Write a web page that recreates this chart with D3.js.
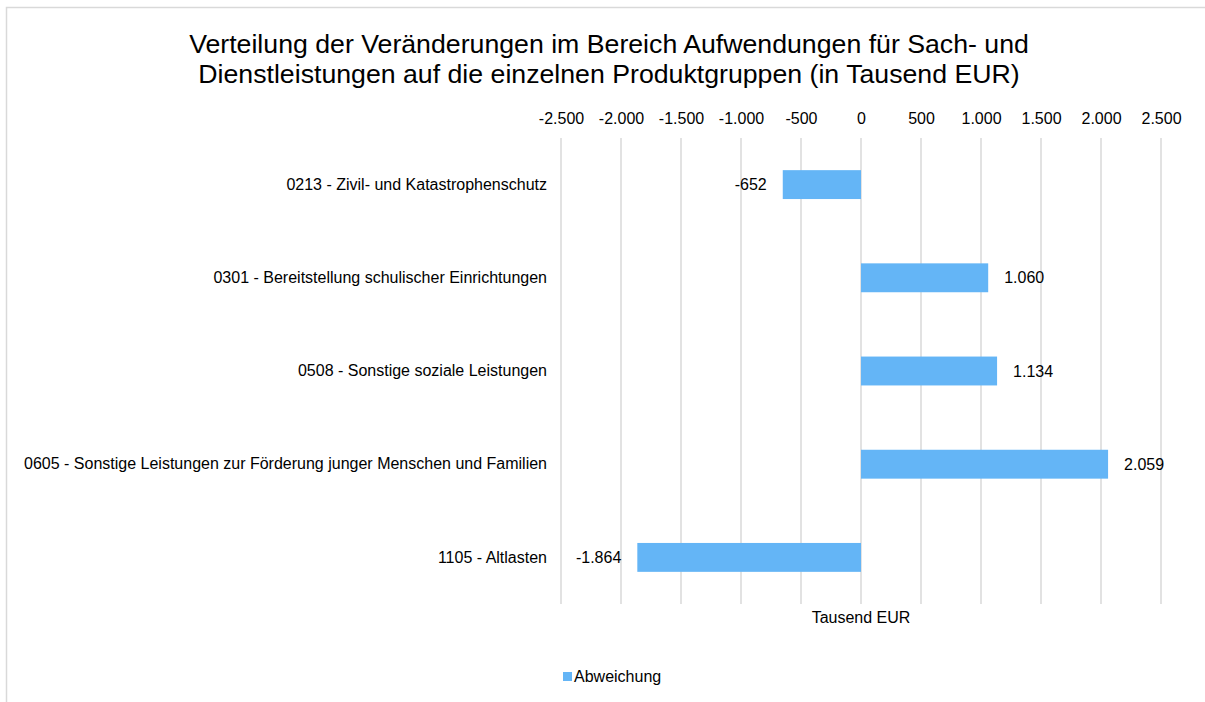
<!DOCTYPE html>
<html lang="de">
<head>
<meta charset="utf-8">
<title>Verteilung der Veränderungen</title>
<script src="https://d3js.org/d3.v7.min.js"></script>
<style>
  body { margin: 0; background: #fff; }
  svg text { font-family: "Liberation Sans", Arial, sans-serif; fill: #000; }
</style>
</head>
<body>
<svg></svg>
<script>
// Daten
const categories = [
  '0213 - Zivil- und Katastrophenschutz',
  '0301 - Bereitstellung schulischer Einrichtungen',
  '0508 - Sonstige soziale Leistungen',
  '0605 - Sonstige Leistungen zur Förderung junger Menschen und Familien',
  '1105 - Altlasten'
]
const values = [-652, 1060, 1134, 2059, -1864]
const ticks = [-2500, -2000, -1500, -1000, -500, 0, 500, 1000, 1500, 2000, 2500]
const titleLines = [
  'Verteilung der Veränderungen im Bereich Aufwendungen für Sach- und',
  'Dienstleistungen auf die einzelnen Produktgruppen (in Tausend EUR)'
]
const seriesName = 'Abweichung'
const axisTitle = 'Tausend EUR'

const W = 1205, H = 702
const barColor = '#64b5f6'
const gridColor = '#d9d9d9'
const fs = '16px'

const svg = d3.select('svg')
  .attr('width', W)
  .attr('height', H)

// Rahmen
svg.append('path')
  .attr('d', `M6.5,${H} V7.5 H${W}`)
  .attr('fill', 'none')
  .attr('stroke', gridColor)
  .attr('stroke-width', 1.5)

// Titel
svg.append('text')
  .attr('x', 609)
  .attr('y', 53)
  .attr('text-anchor', 'middle')
  .style('font-size', '26.7px')
  .selectAll('tspan')
  .data(titleLines)
  .join('tspan')
    .attr('x', 609)
    .attr('dy', (d, i) => i ? 30 : 0)
    .text(d => d)

const x = d3.scaleLinear()
  .domain([-2500, 2500])
  .range([561, 1161])

const y = d3.scaleBand()
  .domain(categories)
  .range([138, 604])
  .paddingInner(0.69)
  .paddingOuter(0.345)

// deutsches Zahlenformat, Minus als Bindestrich
const fmt = d3.formatLocale({ decimal: ',', thousands: '.', grouping: [3], currency: ['', ' €'], minus: '-' }).format(',d')

// Gitterlinien
svg.append('g')
  .selectAll('line')
  .data(ticks)
  .join('line')
    .attr('x1', d => x(d))
    .attr('x2', d => x(d))
    .attr('y1', 138)
    .attr('y2', 604)
    .attr('stroke', gridColor)
    .attr('stroke-width', 1.5)

// Achse oben
const axis = svg.append('g')
  .attr('transform', 'translate(0,124)')
  .call(d3.axisTop(x).tickValues(ticks).tickFormat(fmt).tickSize(0).tickPadding(0))
axis.select('.domain').remove()
axis.selectAll('text')
  .style('font-size', fs)
  .attr('fill', '#000')
  .attr('font-family', null)

// Kategorien
const yAxis = svg.append('g')
  .attr('transform', 'translate(547,0)')
  .call(d3.axisLeft(y).tickSize(0).tickPadding(0))
yAxis.select('.domain').remove()
yAxis.selectAll('text')
  .style('font-size', fs)
  .attr('fill', '#000')
  .attr('font-family', null)

// Balken
svg.append('g')
  .selectAll('rect')
  .data(values)
  .join('rect')
    .attr('x', d => x(Math.min(0, d)))
    .attr('y', (d, i) => y(categories[i]))
    .attr('width', d => Math.abs(x(d) - x(0)))
    .attr('height', y.bandwidth())
    .attr('fill', barColor)

// Werte
svg.append('g')
  .selectAll('text')
  .data(values)
  .join('text')
    .attr('x', d => d < 0 ? x(d) - 16 : x(d) + 16)
    .attr('y', (d, i) => y(categories[i]) + y.bandwidth() / 2)
    .attr('dy', '0.35em')
    .attr('text-anchor', d => d < 0 ? 'end' : 'start')
    .style('font-size', fs)
    .text(d => fmt(d))

// Achsentitel
svg.append('text')
  .attr('x', x(0))
  .attr('y', 623)
  .attr('text-anchor', 'middle')
  .style('font-size', fs)
  .text(axisTitle)

// Legende
const legend = svg.append('g')
  .attr('transform', 'translate(563,672)')
legend.append('rect')
  .attr('width', 9)
  .attr('height', 9)
  .attr('fill', barColor)
legend.append('text')
  .attr('x', 11)
  .attr('y', 4.5)
  .attr('dy', '0.35em')
  .style('font-size', fs)
  .text(seriesName)
</script>
</body>
</html>
